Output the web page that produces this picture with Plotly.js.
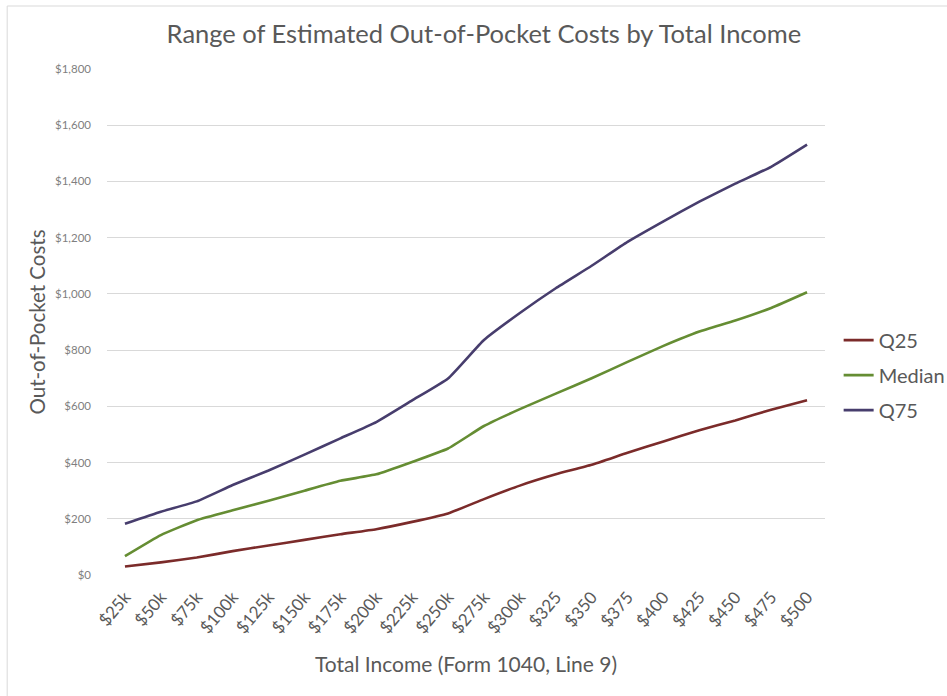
<!DOCTYPE html>
<html>
<head>
<meta charset="utf-8">
<script src="https://cdn.plot.ly/plotly-3.0.1.min.js"></script>
<style>
  html, body { margin: 0; padding: 0; background: #ffffff; }
  #chart { width: 947px; height: 696px; }
</style>
</head>
<body>
<div id="chart"></div>
<script>
const incomeLabels = ["$25k","$50k","$75k","$100k","$125k","$150k","$175k","$200k","$225k","$250k",
                      "$275k","$300k","$325","$350","$375","$400","$425","$450","$475","$500"];
const q25    = [30, 45, 62, 85, 105, 125, 145, 163, 189, 219, 270, 318, 358, 392, 435, 475, 515, 550, 588, 622];
const median = [67, 142, 195, 230, 264, 300, 335, 358, 402, 450, 530, 590, 645, 700, 758, 815, 866, 905, 950, 1006];
const q75    = [182, 225, 262, 320, 372, 428, 486, 544, 621, 699, 836, 932, 1020, 1100, 1185, 1258, 1328, 1392, 1452, 1531];
const yTickVals  = [0, 200, 400, 600, 800, 1000, 1200, 1400, 1600, 1800];
const yTickTexts = ["$0","$200","$400","$600","$800","$1,000","$1,200","$1,400","$1,600","$1,800"];

const seriesNames  = ["Q25", "Median", "Q75"];
const seriesData   = [q25, median, q75];
const seriesColors = ["#7b2b2a", "#658d33", "#473d6d"];

const font = "Lato, 'Open Sans', sans-serif";
const traces = seriesData.map((d, i) => ({
  x: incomeLabels,
  y: d,
  name: seriesNames[i],
  type: "scatter",
  mode: "lines",
  legendgroup: "g" + i,
  line: { color: seriesColors[i], width: 2.6, shape: "spline", smoothing: 0.4 },
  hoverinfo: "x+y+name"
}));

const layout = {
  width: 947,
  height: 696,
  paper_bgcolor: "#ffffff",
  plot_bgcolor: "#ffffff",
  margin: { l: 107, r: 122, t: 69, b: 121, autoexpand: false },
  font: { family: font, color: "#595959" },
  title: {
    text: "Range of Estimated Out-of-Pocket Costs by Total Income",
    font: { family: font, size: 25.5, color: "#595959" },
    x: 0.511, xref: "container", xanchor: "center",
    y: 36, yref: "container", yanchor: "middle"
  },
  xaxis: {
    type: "category",
    range: [-0.5, 19.5],
    tickangle: -50,
    tickfont: { family: font, size: 17, color: "#595959" },
    ticklabelstandoff: 8,
    showgrid: false,
    zeroline: false,
    showline: false,
    ticks: "",
    automargin: false,
    fixedrange: true,
    title: { text: "Total Income (Form 1040, Line 9)", font: { family: font, size: 21, color: "#595959" }, standoff: 20 }
  },
  yaxis: {
    range: [0, 1800],
    tickvals: yTickVals,
    ticktext: yTickTexts,
    tickfont: { family: font, size: 11.5, color: "#7f7f7f" },
    ticklabelstandoff: 15,
    showgrid: true,
    gridcolor: "#d9d9d9",
    gridwidth: 1,
    zeroline: false,
    showline: false,
    ticks: "",
    automargin: false,
    fixedrange: true,
    title: { text: "Out-of-Pocket Costs", font: { family: font, size: 20.5, color: "#595959" }, standoff: 3 }
  },
  legend: {
    x: 1.019, xanchor: "left",
    y: 0.395, yanchor: "middle",
    font: { family: font, size: 20, color: "#595959" },
    tracegroupgap: 6,
    traceorder: "grouped",
    itemwidth: 30,
    bgcolor: "rgba(0,0,0,0)"
  },
  shapes: [{
    type: "rect", xref: "paper", yref: "paper",
    x0: -0.139, x1: 1.3, y0: -0.4, y1: 1.1245,
    line: { color: "#d9d9d9", width: 1 }, fillcolor: "rgba(0,0,0,0)", layer: "below"
  }],
  showlegend: true
};

Plotly.newPlot("chart", traces, layout, { displayModeBar: false, staticPlot: false });
</script>
</body>
</html>
